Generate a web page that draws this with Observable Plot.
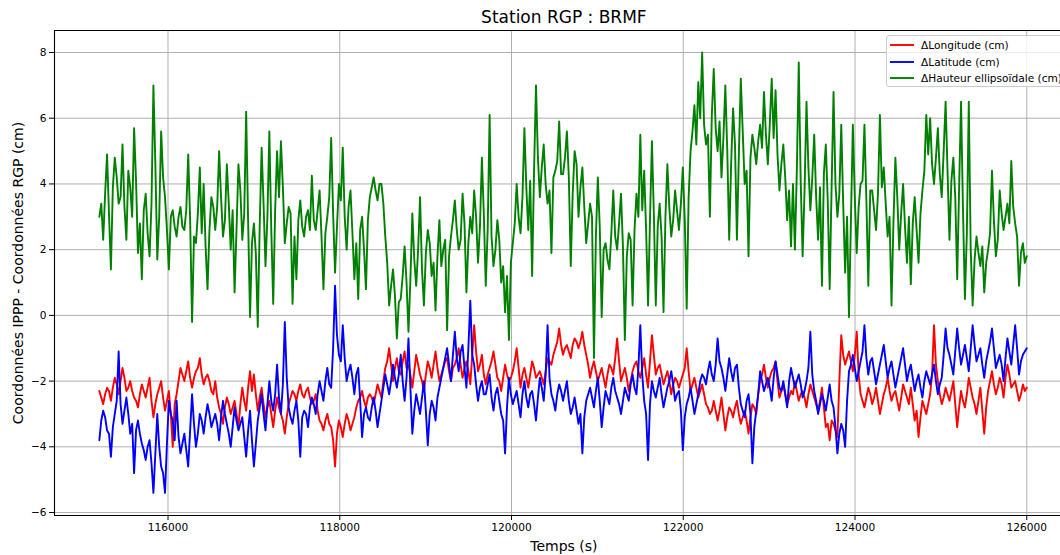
<!DOCTYPE html>
<html>
<head>
<meta charset="utf-8">
<script src="https://cdn.jsdelivr.net/npm/d3@7"></script>
<script src="https://cdn.jsdelivr.net/npm/@observablehq/plot@0.6"></script>
<style>
  html, body { margin: 0; padding: 0; background: #fff; overflow: hidden; }
  #wrap { position: relative; width: 1060px; height: 555px; overflow: hidden; font-family: "DejaVu Sans", sans-serif; }
  #legend { position: absolute; left: 886px; top: 35px; width: 190px; height: 50px; border: 1px solid #cccccc; border-radius: 3px; background: rgba(255,255,255,0.8); font-size: 10.6px; color: #000; }
  .row { position: absolute; left: 0; height: 16px; display: flex; align-items: center; white-space: nowrap; }
  .row svg { margin-left: 3px; margin-right: 7px; }
</style>
</head>
<body>
<div id="wrap"></div>
<script>
// Sampling grid (s) and series values (cm)
const times = d3.range(115200, 126001, 22.5);

const dLongitude = [
  -2.3,-2.5,-2.7,-2.4,-2.2,-2.3,-2.6,-2.2,-1.9,-2.1,-2.4,-2.0,-1.6,-1.9,-2.3,-2.2,-2.0,-2.3,-2.5,-2.6,
  -2.8,-2.4,-2.1,-2.3,-2.5,-2.2,-1.9,-2.6,-3.1,-2.7,-2.4,-2.2,-2.0,-2.5,-2.9,-2.6,-2.3,-3.0,-4.0,-2.7,
  -2.4,-2.0,-1.6,-1.8,-2.0,-1.7,-1.4,-1.9,-2.2,-1.9,-1.7,-1.6,-1.3,-1.8,-2.1,-1.9,-1.8,-2.0,-2.3,-2.4,
  -2.0,-2.5,-2.8,-3.0,-3.3,-2.8,-2.5,-2.7,-3.0,-2.8,-2.6,-3.0,-3.4,-2.7,-2.2,-2.6,-2.9,-2.2,-1.7,-2.3,
  -1.8,-2.4,-2.9,-2.5,-2.2,-2.7,-3.1,-2.8,-2.6,-3.0,-3.4,-2.9,-2.5,-2.8,-3.0,-3.2,-3.6,-3.1,-2.7,-2.5,
  -2.3,-2.4,-2.6,-2.3,-2.1,-2.4,-2.5,-2.3,-2.2,-2.5,-2.7,-2.6,-2.4,-2.9,-3.2,-3.3,-3.5,-3.2,-3.0,-3.3,
  -3.4,-3.8,-4.6,-3.6,-3.2,-3.4,-3.7,-3.3,-3.0,-3.2,-3.5,-3.3,-3.1,-2.8,-2.6,-2.5,-2.3,-2.6,-2.8,-2.5,
  -2.4,-2.5,-2.7,-2.4,-2.1,-2.3,-2.5,-2.0,-1.6,-1.4,-1.0,-1.5,-2.0,-1.6,-1.3,-1.7,-1.8,-1.4,-1.1,-1.6,
  -1.5,-1.8,-2.2,-1.7,-1.2,-1.5,-1.8,-2.0,-2.3,-1.8,-1.4,-1.6,-1.9,-1.5,-1.1,-1.6,-2.0,-1.8,-1.6,-1.4,
  -1.3,-1.7,-2.0,-1.6,-1.5,-1.3,-1.0,-1.5,-1.9,-1.6,-1.4,-1.7,-2.1,-1.2,-0.3,-1.1,-1.7,-1.5,-1.2,-1.8,
  -2.1,-1.8,-1.6,-1.4,-1.1,-1.5,-1.9,-2.0,-2.3,-1.9,-1.5,-1.8,-2.0,-1.9,-1.7,-1.4,-1.0,-1.6,-2.2,-1.8,
  -1.6,-1.9,-2.2,-1.8,-1.4,-1.6,-1.9,-1.8,-1.7,-1.9,-2.1,-1.7,-1.3,-1.4,-1.5,-1.2,-1.0,-0.8,-0.4,-0.9,
  -1.2,-1.0,-0.9,-1.1,-1.3,-0.9,-0.7,-0.8,-1.0,-0.8,-0.5,-0.9,-1.2,-1.5,-1.9,-1.6,-1.4,-1.7,-2.0,-1.8,
  -1.6,-1.9,-2.2,-1.8,-1.5,-1.6,-1.8,-1.3,-0.7,-1.4,-2.0,-1.8,-1.6,-1.9,-2.3,-2.0,-1.7,-1.5,-1.4,-1.7,
  -1.9,-1.6,-1.3,-1.8,-2.2,-1.4,-0.6,-1.2,-1.8,-1.6,-1.5,-1.8,-2.1,-1.9,-1.7,-2.0,-2.4,-2.1,-1.9,-2.0,
  -2.2,-2.0,-1.8,-1.6,-1.0,-1.7,-2.3,-2.1,-1.9,-2.2,-2.5,-2.3,-2.1,-2.4,-2.7,-2.8,-3.0,-2.9,-2.6,-2.9,
  -3.2,-2.9,-2.5,-3.0,-3.5,-3.1,-2.8,-2.9,-3.1,-2.8,-2.6,-3.0,-3.3,-3.1,-2.9,-3.2,-3.6,-3.1,-2.7,-2.8,
  -3.0,-2.4,-2.0,-1.8,-1.5,-1.9,-2.2,-1.9,-1.7,-1.6,-1.4,-2.0,-2.5,-2.3,-2.1,-2.4,-2.7,-2.5,-2.3,-2.4,
  -2.0,-2.3,-2.6,-2.4,-2.3,-2.5,-2.8,-2.4,-2.1,-2.3,-2.5,-2.7,-2.9,-2.6,-2.2,-2.8,-3.4,-3.3,-3.8,-3.2,
  -3.3,-3.5,-3.7,-2.0,-0.6,-1.2,-1.5,-1.3,-1.1,-1.4,-1.7,-1.2,-0.5,-1.8,-2.4,-2.6,-2.8,-2.5,-2.2,-2.4,
  -2.7,-2.5,-2.2,-2.6,-3.0,-2.7,-2.4,-2.2,-1.9,-2.3,-2.6,-2.4,-2.3,-2.6,-2.9,-2.5,-2.1,-2.3,-2.5,-2.7,
  -2.2,-2.7,-3.2,-2.9,-3.7,-3.1,-2.6,-2.8,-3.0,-2.7,-2.4,-1.8,-0.3,-1.5,-2.0,-2.4,-2.7,-2.5,-2.2,-2.4,
  -2.6,-2.3,-2.0,-2.7,-3.4,-2.8,-2.3,-2.6,-2.8,-2.4,-1.9,-2.2,-2.5,-2.7,-3.0,-2.6,-2.2,-2.9,-3.6,-2.8,
  -2.3,-2.0,-1.7,-2.1,-2.4,-2.2,-1.9,-2.1,-2.5,-1.9,-1.5,-1.8,-2.2,-2.1,-2.0,-2.3,-2.6,-2.4,-2.1,-2.3,
  -2.2
];

const dLatitude = [
  -3.8,-3.2,-2.9,-3.1,-3.5,-3.6,-4.3,-3.4,-3.0,-2.6,-1.1,-2.7,-3.3,-2.9,-2.5,-3.0,-3.6,-3.3,-4.8,-3.5,
  -3.2,-3.6,-3.9,-4.1,-4.4,-4.0,-3.8,-4.5,-5.4,-4.2,-3.0,-4.0,-4.6,-4.8,-5.4,-3.9,-2.6,-3.0,-3.2,-3.8,
  -2.6,-3.7,-4.2,-3.9,-3.6,-4.1,-4.6,-3.5,-2.4,-3.3,-4.0,-3.6,-3.0,-3.2,-3.6,-3.1,-2.7,-3.0,-3.4,-3.2,
  -3.0,-3.3,-3.8,-3.1,-2.6,-3.0,-3.3,-3.6,-4.0,-3.4,-2.8,-3.2,-3.5,-3.3,-3.1,-3.7,-4.3,-3.5,-2.9,-3.8,
  -4.6,-3.9,-3.2,-2.8,-2.4,-3.0,-3.5,-2.7,-2.0,-2.6,-2.9,-2.4,-1.5,-2.5,-3.0,-2.1,-0.2,-1.9,-2.8,-3.1,
  -3.3,-2.9,-2.6,-3.2,-4.3,-3.1,-2.9,-3.0,-3.4,-2.8,-2.5,-2.7,-3.0,-2.4,-2.0,-2.3,-2.6,-2.0,-1.6,-2.1,
  -2.2,-1.0,0.9,-0.6,-1.2,-1.4,-0.3,-1.3,-2.0,-1.7,-1.5,-1.9,-2.4,-1.8,-1.6,-2.6,-3.7,-3.0,-2.8,-3.1,
  -3.2,-2.8,-2.5,-2.9,-3.4,-3.0,-2.6,-2.2,-1.8,-2.1,-2.4,-2.0,-1.5,-1.9,-2.2,-1.8,-1.2,-2.0,-2.6,-1.9,
  -0.7,-2.2,-3.6,-2.9,-2.4,-2.7,-3.0,-2.5,-2.0,-2.9,-3.95,-3.0,-2.6,-2.8,-3.2,-2.5,-2.2,-1.9,-1.6,-1.3,
  -1.0,-1.5,-2.0,-1.2,-0.5,-1.3,-1.7,-1.1,-0.9,-1.6,-2.2,-1.0,0.45,-1.2,-1.5,-2.1,-2.6,-2.2,-2.0,-2.4,
  -2.4,-2.1,-1.8,-2.5,-2.9,-2.4,-2.2,-2.6,-3.0,-3.2,-4.2,-2.8,-1.9,-2.4,-2.7,-2.5,-2.3,-2.7,-3.1,-2.4,
  -2.0,-2.5,-2.8,-2.4,-2.3,-2.7,-3.2,-2.5,-1.9,-2.2,-2.6,-1.8,-0.3,-1.9,-2.4,-2.6,-2.9,-2.4,-2.1,-2.3,
  -2.6,-2.3,-2.0,-2.6,-3.0,-2.8,-2.5,-2.9,-3.3,-3.0,-4.2,-3.1,-2.6,-2.4,-2.2,-2.5,-2.8,-2.3,-1.9,-2.6,
  -3.4,-2.8,-2.3,-2.5,-2.7,-2.2,-1.9,-2.3,-2.5,-2.7,-3.0,-2.6,-2.2,-2.4,-2.6,-2.1,-1.8,-2.2,-2.4,-1.6,
  -0.3,-1.8,-2.6,-3.0,-4.4,-2.7,-2.0,-2.3,-2.5,-2.2,-1.9,-2.4,-2.8,-2.5,-2.2,-2.0,-1.7,-2.1,-2.6,-2.4,
  -2.3,-2.9,-4.1,-3.1,-2.7,-2.5,-2.2,-2.6,-3.0,-2.7,-2.4,-2.0,-1.8,-1.9,-2.1,-1.7,-1.4,-1.8,-2.0,-1.5,
  -0.7,-1.4,-1.6,-1.9,-2.3,-1.8,-1.3,-1.7,-2.0,-1.6,-1.5,-2.2,-2.7,-2.9,-3.1,-2.6,-2.4,-3.0,-4.5,-3.4,
  -2.9,-2.4,-1.7,-2.0,-2.3,-2.1,-1.9,-2.2,-2.6,-1.9,-1.4,-1.8,-2.2,-2.3,-2.0,-2.4,-2.8,-2.0,-1.6,-1.9,
  -2.2,-2.0,-1.8,-2.1,-2.5,-2.3,-2.0,-1.6,-0.5,-1.8,-2.3,-2.6,-3.0,-2.7,-2.4,-2.6,-2.9,-2.5,-2.1,-2.6,
  -2.8,-3.4,-4.2,-3.6,-3.3,-3.5,-4.0,-2.6,-1.7,-1.5,-1.2,-1.6,-2.0,-1.7,-1.4,-1.1,-0.3,-1.3,-1.8,-1.4,
  -1.3,-1.7,-2.1,-1.8,-1.5,-1.2,-0.9,-1.4,-1.9,-1.6,-1.4,-1.8,-2.2,-1.9,-1.6,-1.3,-1.0,-1.5,-2.0,-1.7,
  -1.5,-1.9,-2.3,-2.0,-1.8,-2.2,-2.5,-2.0,-1.7,-1.9,-2.1,-1.8,-1.5,-2.0,-2.4,-2.1,-1.9,-1.2,-0.4,-1.0,
  -1.2,-1.5,-1.8,-1.1,-0.4,-1.0,-1.5,-1.2,-0.9,-1.3,-1.7,-1.0,-0.3,-0.9,-1.4,-1.2,-1.0,-1.5,-1.9,-1.4,
  -1.1,-0.8,-0.4,-1.0,-1.6,-1.4,-1.2,-1.5,-2.0,-1.3,-0.7,-1.1,-1.5,-0.9,-0.3,-1.0,-1.8,-1.4,-1.2,-1.1,
  -1.0
];

const dHauteur = [
  3.0,3.4,2.3,3.7,4.9,3.1,1.4,3.9,4.8,4.2,3.4,3.6,5.2,3.3,2.3,4.4,3.9,3.0,5.7,4.1,
  1.9,2.8,1.1,3.2,3.7,2.5,1.8,3.4,7.0,4.6,1.7,3.0,5.6,4.2,3.6,2.6,1.4,3.0,3.2,2.7,
  2.4,3.0,3.3,2.7,2.6,3.2,4.9,2.9,-0.2,2.4,2.2,3.1,4.5,2.5,4.0,2.1,0.8,2.6,3.6,3.3,
  2.6,3.3,5.0,3.6,2.4,2.9,4.6,3.4,2.0,3.2,0.7,2.6,4.6,3.8,2.3,3.1,6.2,2.9,-0.05,2.2,
  2.8,1.9,-0.35,2.7,5.1,3.4,1.5,3.0,5.6,2.6,0.35,3.2,5.0,3.6,5.3,3.9,2.2,2.8,3.3,3.1,
  0.35,2.4,1.1,2.9,3.5,2.7,2.4,3.0,3.2,2.6,4.25,2.9,2.6,3.2,3.8,2.4,0.8,2.5,3.0,3.6,
  5.4,3.1,1.3,2.7,4.0,3.5,5.1,3.0,2.0,3.3,3.8,2.5,1.1,2.2,0.5,2.6,3.0,2.0,0.8,2.9,
  3.6,3.9,4.2,3.8,3.5,4.0,4.0,3.4,2.4,1.6,0.3,0.9,1.4,0.6,-0.7,0.4,0.5,1.2,2.1,1.0,
  -0.5,1.1,3.1,1.7,0.9,2.0,3.6,1.4,0.3,1.9,2.6,2.2,1.2,1.6,0.15,1.8,2.9,1.5,2.0,2.3,
  -0.45,1.8,2.4,2.9,3.5,2.6,2.0,2.3,3.7,2.8,0.7,2.2,3.0,2.5,3.8,3.0,1.6,2.7,4.8,3.1,
  0.9,2.6,6.1,2.4,1.5,2.0,2.9,2.3,1.0,1.5,0.1,1.2,-0.75,1.6,2.2,2.8,4.0,3.0,2.5,3.6,
  5.7,3.9,2.6,4.1,1.2,4.4,7.0,4.8,3.6,4.5,5.2,4.0,3.4,3.8,1.9,4.2,4.4,4.7,5.9,4.3,
  4.3,4.8,5.6,4.2,1.5,3.7,5.0,4.6,3.0,3.9,4.5,3.3,2.2,2.8,3.4,3.0,-1.3,2.4,4.2,2.7,
  -0.05,2.0,2.2,1.7,1.4,2.5,3.8,2.4,2.0,2.8,3.7,2.1,-0.75,1.8,2.5,2.3,0.3,2.6,3.7,3.0,
  5.5,3.2,4.4,2.6,0.3,2.9,5.3,3.1,0.3,2.7,3.4,2.4,0.1,3.0,4.6,3.3,2.4,2.9,3.8,3.2,
  2.6,3.4,4.5,2.9,0.2,3.6,5.0,5.6,6.4,5.2,7.1,6.0,8.0,5.8,5.2,5.5,3.0,6.1,7.5,5.7,
  5.0,5.9,4.2,5.4,7.0,5.0,2.3,4.6,6.3,5.2,2.3,4.9,7.2,5.6,4.0,4.4,1.8,4.8,5.5,5.1,
  4.6,5.3,5.8,5.1,6.8,5.5,4.6,5.8,7.2,5.4,6.85,4.9,3.8,4.6,5.2,4.2,2.9,3.8,2.1,4.0,
  2.0,4.4,7.7,4.1,1.8,3.8,6.5,4.5,3.2,4.2,5.5,3.6,2.3,3.9,0.9,4.3,5.2,3.5,0.8,3.9,
  6.8,4.0,3.0,3.7,5.8,3.4,1.3,3.0,-0.05,2.9,5.8,3.6,1.9,3.3,4.0,4.1,5.8,3.5,0.9,3.8,
  3.8,3.2,2.6,3.7,6.1,3.9,4.5,3.4,2.4,3.0,0.3,2.8,4.8,3.6,2.0,3.1,4.0,2.7,1.6,3.0,
  0.95,2.8,3.6,2.6,1.6,3.1,3.8,4.4,6.1,4.9,6.0,4.6,4.0,4.8,5.7,4.3,3.6,5.0,6.5,4.4,
  2.3,4.1,4.8,3.6,1.1,3.9,6.5,3.2,0.5,2.5,6.5,2.0,0.3,1.7,2.4,1.9,1.5,2.1,0.7,1.6,
  2.0,2.5,4.4,2.9,1.8,2.3,3.8,3.1,2.6,3.0,3.4,2.8,4.7,3.3,2.8,2.4,0.9,1.9,2.2,1.6,
  1.8
];

const xTicks = [116000, 118000, 120000, 122000, 124000, 126000];
const yTicks = [-6, -4, -2, 0, 2, 4, 6, 8];

const seriesNames = ["ΔLongitude (cm)", "ΔLatitude (cm)", "ΔHauteur ellipsoïdale (cm)"];
const seriesColors = ["#ff0000", "#0000ff", "#008000"];
const seriesValues = [dLongitude, dLatitude, dHauteur];

const title = "Station RGP : BRMF";
const xLabel = "Temps (s)";
const yLabel = "Coordonnées IPPP - Coordonnées RGP (cm)";

const rows = seriesValues.map(vals => times.map((t, i) => ({t, v: vals[i]})));

const xDomain = [114678, 126393];
const yDomain = [-6.09, 8.67];
const axesCenterX = (114678 + 126541) / 2;

const chart = Plot.plot({
  width: 1060,
  height: 555,
  marginLeft: 54,
  marginRight: 0,
  marginTop: 30,
  marginBottom: 40,
  style: {fontFamily: "DejaVu Sans, sans-serif", background: "#fff", color: "#000"},
  x: {domain: xDomain},
  y: {domain: yDomain},
  marks: [
    Plot.gridX(xTicks, {stroke: "#b0b0b0", strokeOpacity: 1, strokeWidth: 1}),
    Plot.gridY(yTicks, {stroke: "#b0b0b0", strokeOpacity: 1, strokeWidth: 1}),
    ...rows.map((r, k) => Plot.line(r, {x: "t", y: "v", stroke: seriesColors[k], strokeWidth: 1.9, strokeLinejoin: "round"})),
    Plot.ruleY([yDomain[0]], {stroke: "#000", strokeWidth: 1.1}),
    Plot.ruleY([yDomain[1]], {stroke: "#000", strokeWidth: 1.1}),
    Plot.ruleX([xDomain[0]], {stroke: "#000", strokeWidth: 1.1}),
    Plot.axisX(xTicks, {tickSize: 5, tickPadding: 3, fontSize: 10.6, tickFormat: d3.format("d"), label: null, color: "#000"}),
    Plot.axisY(yTicks, {tickSize: 5, tickPadding: 3, fontSize: 10.6, tickFormat: d => d < 0 ? "−" + Math.abs(d) : String(d), label: null, color: "#000"}),
    Plot.text([title], {frameAnchor: "top", dy: -20, fontSize: 17, fill: "#000", text: d => d, x: () => axesCenterX}),
    Plot.text([xLabel], {frameAnchor: "bottom", dy: 35, fontSize: 14, fill: "#000", text: d => d, x: () => axesCenterX}),
    Plot.text([yLabel], {frameAnchor: "left", textAnchor: "middle", dx: -36, rotate: -90, fontSize: 14, fill: "#000", text: d => d})
  ]
});

const wrap = document.getElementById("wrap");
wrap.appendChild(chart);

const legend = document.createElement("div");
legend.id = "legend";
seriesNames.forEach((name, k) => {
  const row = document.createElement("div");
  row.className = "row";
  row.style.top = (1 + k * 16.5) + "px";
  const sw = d3.create("svg").attr("width", 24).attr("height", 8);
  sw.append("line").attr("x1", 0).attr("x2", 24).attr("y1", 4).attr("y2", 4)
    .attr("stroke", seriesColors[k]).attr("stroke-width", 1.9);
  const tx = document.createElement("span");
  tx.textContent = name;
  row.appendChild(sw.node());
  row.appendChild(tx);
  legend.appendChild(row);
});
wrap.appendChild(legend);
</script>
</body>
</html>
